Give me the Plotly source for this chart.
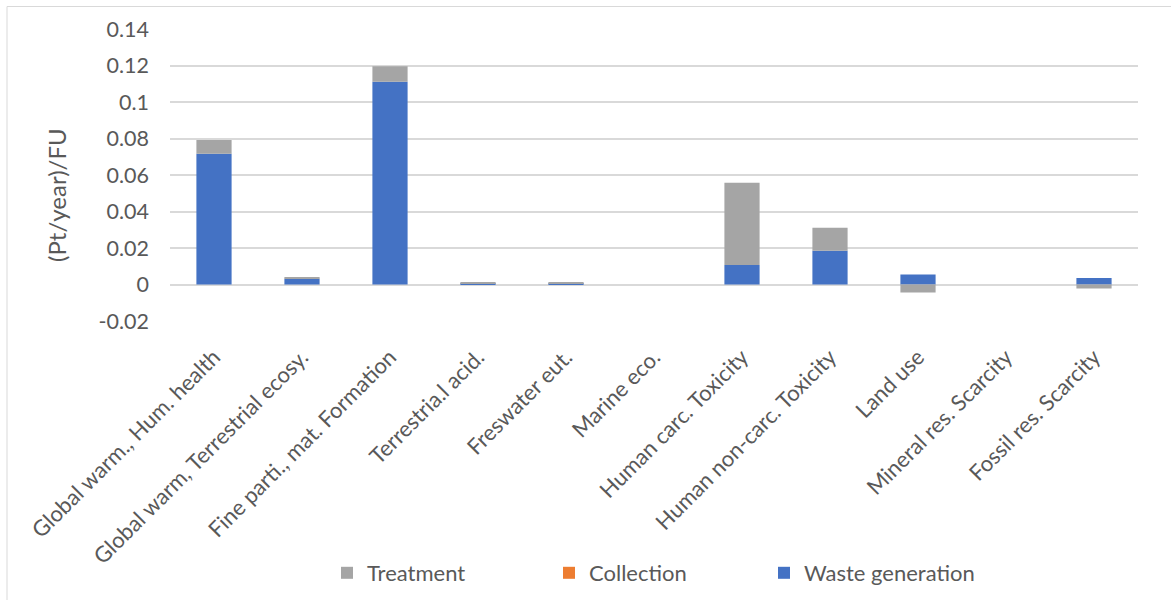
import plotly.graph_objects as go

# Impact categories (x axis)
categories = [
    "Global warm., Hum. health",
    "Global warm, Terrestrial ecosy.",
    "Fine parti., mat. Formation",
    "Terrestria.l acid.",
    "Freswater eut.",
    "Marine eco.",
    "Human carc. Toxicity",
    "Human non-carc. Toxicity",
    "Land use",
    "Mineral res. Scarcity",
    "Fossil res. Scarcity",
]

# Contributions per life-cycle stage, (Pt/year)/FU
waste_generation = [0.0717, 0.0032, 0.1111, 0.0007, 0.0007, 0.0, 0.0107, 0.0185, 0.0055, 0.0, 0.0036]
collection = [0.0, 0.0, 0.0, 0.0, 0.0, 0.0, 0.0, 0.0, 0.0, 0.0, 0.0]
treatment = [0.0075, 0.0005, 0.0085, 0.0002, 0.0002, 0.0, 0.0451, 0.0126, -0.0044, 0.0, -0.0022]

y_ticks = [-0.02, 0, 0.02, 0.04, 0.06, 0.08, 0.1, 0.12, 0.14]
y_tick_text = ["-0.02", "0", "0.02", "0.04", "0.06", "0.08", "0.1", "0.12", "0.14"]

FONT = "Lato"
TXT = "#595959"
GRID = "#d9d9d9"

W, H = 1171, 600
ML, MR, MT, MB = 170, 33, 29, 279
PW, PH = W - ML - MR, H - MT - MB


def px_to_paper_x(px):
    return (px - ML) / PW


def py_to_paper_y(py):
    return (H - MB - py) / PH


fig = go.Figure()
fig.add_trace(go.Bar(x=categories, y=waste_generation, name="Waste generation",
                     marker=dict(color="#4472C4", line=dict(width=0)), legend="legend3"))
fig.add_trace(go.Bar(x=categories, y=collection, name="Collection",
                     marker=dict(color="#ED7D31", line=dict(width=0)), legend="legend2"))
fig.add_trace(go.Bar(x=categories, y=treatment, name="Treatment",
                     marker=dict(color="#A5A5A5", line=dict(width=0)), legend="legend"))

legend_common = dict(orientation="h", xanchor="left", yanchor="middle",
                     font=dict(family=FONT, size=22, color=TXT),
                     bgcolor="rgba(0,0,0,0)", borderwidth=0)

fig.update_layout(
    width=W, height=H,
    margin=dict(l=ML, r=MR, t=MT, b=MB, autoexpand=False),
    barmode="relative",
    bargap=0.6,
    plot_bgcolor="white",
    paper_bgcolor="white",
    font=dict(family=FONT, size=22, color=TXT),
    showlegend=True,
    legend=dict(x=px_to_paper_x(327), y=py_to_paper_y(573), **legend_common),
    legend2=dict(x=px_to_paper_x(549), y=py_to_paper_y(573), **legend_common),
    legend3=dict(x=px_to_paper_x(764), y=py_to_paper_y(573), **legend_common),
    xaxis=dict(
        tickangle=-45,
        tickfont=dict(family=FONT, size=22, color=TXT),
        showgrid=False,
        showline=False,
        ticks="",
        ticklabelstandoff=18,
    ),
    yaxis=dict(
        range=[-0.02, 0.14],
        tickvals=y_ticks,
        ticktext=y_tick_text,
        tickfont=dict(family=FONT, size=21.5, color=TXT),
        showgrid=True,
        gridcolor=GRID,
        gridwidth=1.5,
        zeroline=True,
        zerolinecolor=GRID,
        zerolinewidth=1.5,
        showline=False,
        ticks="",
        ticklabelstandoff=20,
    ),
    annotations=[
        dict(text="(Pt/year)/FU", xref="paper", yref="paper",
             x=px_to_paper_x(56), y=py_to_paper_y(195),
             xanchor="center", yanchor="middle", textangle=-90, showarrow=False,
             font=dict(family=FONT, size=24, color=TXT)),
    ],
    shapes=[
        dict(type="rect", xref="paper", yref="paper",
             x0=px_to_paper_x(7), x1=px_to_paper_x(1180),
             y0=py_to_paper_y(610), y1=py_to_paper_y(6.5),
             line=dict(color=GRID, width=1), fillcolor="rgba(0,0,0,0)", layer="below"),
    ],
)

fig.write_html("out.html")
